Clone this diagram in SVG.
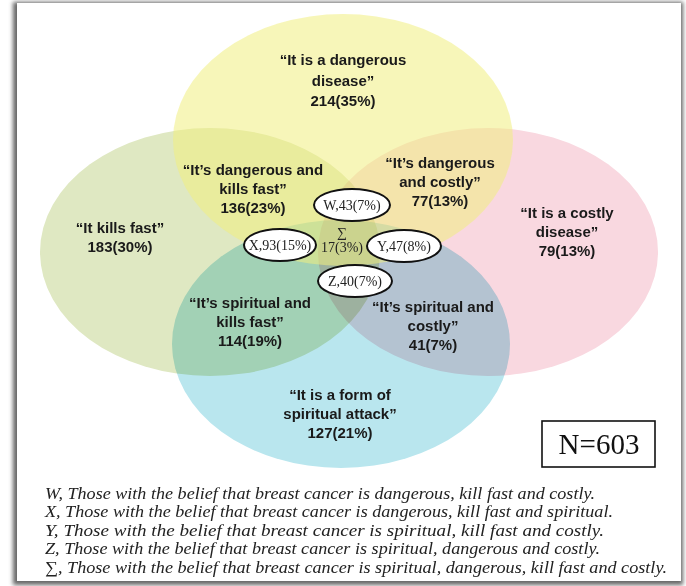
<svg xmlns="http://www.w3.org/2000/svg" width="686" height="586" viewBox="0 0 686 586">
<defs>
<filter id="sh" x="-5%" y="-5%" width="110%" height="110%"><feGaussianBlur stdDeviation="2"/></filter>
<style>
.set{mix-blend-mode:multiply}
.top{fill-opacity:0.55}
.lbl{font-family:"Liberation Sans",Arial,sans-serif;font-weight:bold;font-size:15px;fill:#1a1a1a;text-anchor:middle}
.tag{fill:#fff;stroke:#111;stroke-width:2}
.tagt{font-family:"Liberation Serif","Times New Roman",serif;font-size:14px;fill:#222;text-anchor:middle}
.leg{font-family:"Liberation Serif","Times New Roman",serif;font-style:italic;font-size:17px;fill:#222}
</style>
</defs>
<rect width="686" height="586" fill="#fff"/>
<rect x="13" y="2" width="670" height="583" fill="#666" filter="url(#sh)"/>
<rect x="17" y="3" width="664" height="578" fill="#fff"/>
<g id="sets">
<g id="set-kills-fast"><ellipse class="set" cx="210" cy="252" rx="170" ry="124" fill="#dfe8c2"/></g>
<g id="set-costly"><ellipse class="set" cx="488" cy="252" rx="170" ry="124" fill="#f9d8e0"/></g>
<g id="set-spiritual"><ellipse class="set" cx="341" cy="344" rx="169" ry="124" fill="#b9e6ee"/></g>
<g id="set-dangerous"><ellipse class="top" cx="343" cy="140" rx="170" ry="126" fill="#f0ee80"/></g>
</g>
<g id="connectors"></g>
<g id="label-dangerous"><text class="lbl" x="343" y="65">“It is a dangerous</text><text class="lbl" x="343" y="86">disease”</text><text class="lbl" x="343" y="106">214(35%)</text></g>
<g id="label-dangerous-kills"><text class="lbl" x="253" y="175">“It’s dangerous and</text><text class="lbl" x="253" y="194">kills fast”</text><text class="lbl" x="253" y="213">136(23%)</text></g>
<g id="label-dangerous-costly"><text class="lbl" x="440" y="168">“It’s dangerous</text><text class="lbl" x="440" y="187">and costly”</text><text class="lbl" x="440" y="206">77(13%)</text></g>
<g id="label-kills"><text class="lbl" x="120" y="233">“It kills fast”</text><text class="lbl" x="120" y="252">183(30%)</text></g>
<g id="label-costly"><text class="lbl" x="567" y="218">“It is a costly</text><text class="lbl" x="567" y="237">disease”</text><text class="lbl" x="567" y="256">79(13%)</text></g>
<g id="label-spiritual-kills"><text class="lbl" x="250" y="308">“It’s spiritual and</text><text class="lbl" x="250" y="327">kills fast”</text><text class="lbl" x="250" y="346">114(19%)</text></g>
<g id="label-spiritual-costly"><text class="lbl" x="433" y="312">“It’s spiritual and</text><text class="lbl" x="433" y="331">costly”</text><text class="lbl" x="433" y="350">41(7%)</text></g>
<g id="label-spiritual"><text class="lbl" x="340" y="400">“It is a form of</text><text class="lbl" x="340" y="419">spiritual attack”</text><text class="lbl" x="340" y="438">127(21%)</text></g>
<g id="node-W"><ellipse class="tag" cx="352" cy="205" rx="38" ry="16"/><text class="tagt" x="352" y="210">W,43(7%)</text></g>
<g id="node-X"><ellipse class="tag" cx="280" cy="245" rx="36" ry="16"/><text class="tagt" x="280" y="250">X,93(15%)</text></g>
<g id="node-Y"><ellipse class="tag" cx="404" cy="246" rx="37" ry="16"/><text class="tagt" x="404" y="251">Y,47(8%)</text></g>
<g id="node-Z"><ellipse class="tag" cx="355" cy="281" rx="37" ry="16"/><text class="tagt" x="355" y="286">Z,40(7%)</text></g>
<g id="node-sigma"><text class="tagt" x="342" y="237" font-size="12">∑</text><text class="tagt" x="342" y="252" font-size="10">17(3%)</text></g>
<g id="node-N"><rect x="542" y="421" width="113" height="46" fill="#fff" stroke="#111" stroke-width="1.6"/><text x="599" y="454" font-family="Liberation Serif,'Times New Roman',serif" font-size="29" fill="#111" text-anchor="middle">N=603</text></g>
<g id="legend">
<text class="leg" x="45" y="499" textLength="550" lengthAdjust="spacingAndGlyphs">W, Those with the belief that breast cancer is dangerous, kill fast and costly.</text>
<text class="leg" x="45" y="517" textLength="568" lengthAdjust="spacingAndGlyphs">X, Those with the belief that breast cancer is dangerous, kill fast and spiritual.</text>
<text class="leg" x="45" y="535.5" textLength="559" lengthAdjust="spacingAndGlyphs">Y, Those with the belief that breast cancer is spiritual, kill fast and costly.</text>
<text class="leg" x="45" y="554" textLength="555" lengthAdjust="spacingAndGlyphs">Z, Those with the belief that breast cancer is spiritual, dangerous and costly.</text>
<text class="leg" x="45" y="572.5" textLength="622" lengthAdjust="spacingAndGlyphs">∑, Those with the belief that breast cancer is spiritual, dangerous, kill fast and costly.</text>
</g>
</svg>
